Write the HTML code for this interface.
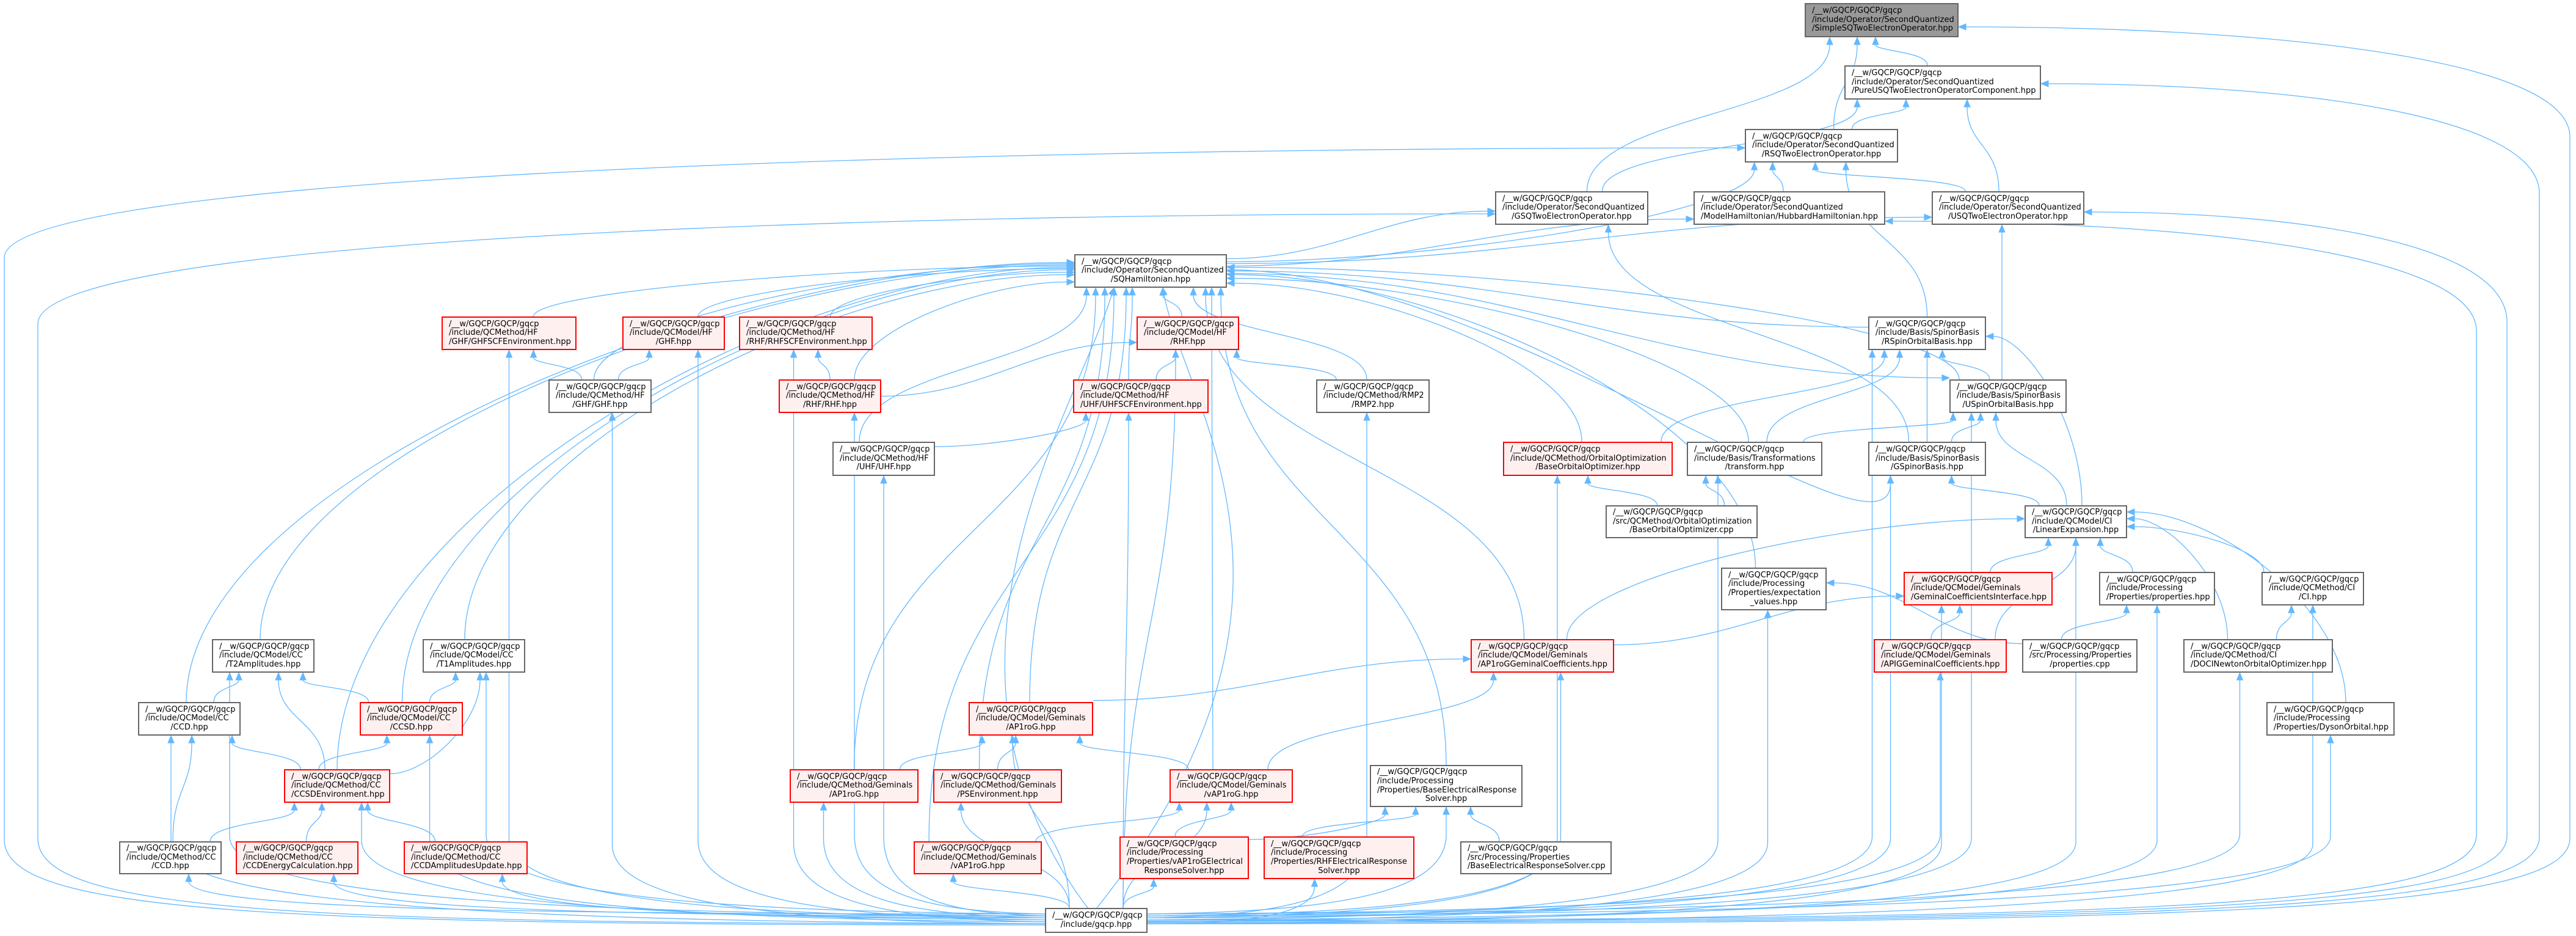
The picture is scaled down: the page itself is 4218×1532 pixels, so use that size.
<!DOCTYPE html>
<html><head><meta charset="utf-8">
<style>
html,body{margin:0;padding:0;background:#fff;}
#wrap{position:relative;width:4218px;height:1532px;overflow:hidden;background:#fff;}
svg{position:absolute;left:0;top:0;}
.n{position:absolute;box-sizing:border-box;border:2px solid #666;background:#fff;font-family:"DejaVu Sans","Liberation Sans",sans-serif;font-size:13px;line-height:14.6px;color:#000;display:flex;flex-direction:column;justify-content:center;padding:0 10px;white-space:nowrap;overflow:visible;}
.n div{text-align:left;}
.n div:last-child{text-align:center;}
.r{border-color:#ff0000;background:#fff0f0;}
.g{background:#999;border-color:#666;}
</style></head><body><div id="wrap">
<svg id="e" width="4218" height="1532" xmlns="http://www.w3.org/2000/svg"></svg>

<div class="n g" style="left:2955px;top:5px;width:252px;height:56px"><div>/__w/GQCP/GQCP/gqcp</div><div>/include/Operator/SecondQuantized</div><div>/SimpleSQTwoElectronOperator.hpp</div></div>
<div class="n" style="left:3020px;top:107px;width:322px;height:56px"><div>/__w/GQCP/GQCP/gqcp</div><div>/include/Operator/SecondQuantized</div><div>/PureUSQTwoElectronOperatorComponent.hpp</div></div>
<div class="n" style="left:2857px;top:211px;width:251px;height:55px"><div>/__w/GQCP/GQCP/gqcp</div><div>/include/Operator/SecondQuantized</div><div>/RSQTwoElectronOperator.hpp</div></div>
<div class="n" style="left:2773px;top:313px;width:314px;height:55px"><div>/__w/GQCP/GQCP/gqcp</div><div>/include/Operator/SecondQuantized</div><div>/ModelHamiltonian/HubbardHamiltonian.hpp</div></div>
<div class="n" style="left:3163px;top:313px;width:250px;height:55px"><div>/__w/GQCP/GQCP/gqcp</div><div>/include/Operator/SecondQuantized</div><div>/USQTwoElectronOperator.hpp</div></div>
<div class="n" style="left:2448px;top:313px;width:251px;height:55px"><div>/__w/GQCP/GQCP/gqcp</div><div>/include/Operator/SecondQuantized</div><div>/GSQTwoElectronOperator.hpp</div></div>
<div class="n" style="left:1759px;top:416px;width:250px;height:55px"><div>/__w/GQCP/GQCP/gqcp</div><div>/include/Operator/SecondQuantized</div><div>/SQHamiltonian.hpp</div></div>
<div class="n" style="left:3059px;top:518px;width:193px;height:55px"><div>/__w/GQCP/GQCP/gqcp</div><div>/include/Basis/SpinorBasis</div><div>/RSpinOrbitalBasis.hpp</div></div>
<div class="n" style="left:3192px;top:621px;width:192px;height:55px"><div>/__w/GQCP/GQCP/gqcp</div><div>/include/Basis/SpinorBasis</div><div>/USpinOrbitalBasis.hpp</div></div>
<div class="n" style="left:3059px;top:723px;width:193px;height:56px"><div>/__w/GQCP/GQCP/gqcp</div><div>/include/Basis/SpinorBasis</div><div>/GSpinorBasis.hpp</div></div>
<div class="n" style="left:2762px;top:723px;width:222px;height:56px"><div>/__w/GQCP/GQCP/gqcp</div><div>/include/Basis/Transformations</div><div>/transform.hpp</div></div>
<div class="n r" style="left:2461px;top:723px;width:278px;height:56px"><div>/__w/GQCP/GQCP/gqcp</div><div>/include/QCMethod/OrbitalOptimization</div><div>/BaseOrbitalOptimizer.hpp</div></div>
<div class="n" style="left:2629px;top:827px;width:249px;height:54px"><div>/__w/GQCP/GQCP/gqcp</div><div>/src/QCMethod/OrbitalOptimization</div><div>/BaseOrbitalOptimizer.cpp</div></div>
<div class="n" style="left:3315px;top:827px;width:168px;height:54px"><div>/__w/GQCP/GQCP/gqcp</div><div>/include/QCModel/CI</div><div>/LinearExpansion.hpp</div></div>
<div class="n" style="left:2818px;top:929px;width:173px;height:70px"><div>/__w/GQCP/GQCP/gqcp</div><div>/include/Processing</div><div>/Properties/expectation</div><div>_values.hpp</div></div>
<div class="n r" style="left:3117px;top:936px;width:244px;height:55px"><div>/__w/GQCP/GQCP/gqcp</div><div>/include/QCModel/Geminals</div><div>/GeminalCoefficientsInterface.hpp</div></div>
<div class="n" style="left:3437px;top:936px;width:190px;height:55px"><div>/__w/GQCP/GQCP/gqcp</div><div>/include/Processing</div><div>/Properties/properties.hpp</div></div>
<div class="n" style="left:3703px;top:936px;width:168px;height:55px"><div>/__w/GQCP/GQCP/gqcp</div><div>/include/QCMethod/CI</div><div>/CI.hpp</div></div>
<div class="n r" style="left:3068px;top:1046px;width:218px;height:55px"><div>/__w/GQCP/GQCP/gqcp</div><div>/include/QCModel/Geminals</div><div>/APIGGeminalCoefficients.hpp</div></div>
<div class="n" style="left:3311px;top:1046px;width:189px;height:55px"><div>/__w/GQCP/GQCP/gqcp</div><div>/src/Processing/Properties</div><div>/properties.cpp</div></div>
<div class="n" style="left:3575px;top:1046px;width:245px;height:55px"><div>/__w/GQCP/GQCP/gqcp</div><div>/include/QCMethod/CI</div><div>/DOCINewtonOrbitalOptimizer.hpp</div></div>
<div class="n" style="left:3711px;top:1149px;width:210px;height:55px"><div>/__w/GQCP/GQCP/gqcp</div><div>/include/Processing</div><div>/Properties/DysonOrbital.hpp</div></div>
<div class="n r" style="left:723px;top:518px;width:221px;height:55px"><div>/__w/GQCP/GQCP/gqcp</div><div>/include/QCMethod/HF</div><div>/GHF/GHFSCFEnvironment.hpp</div></div>
<div class="n r" style="left:1019px;top:518px;width:168px;height:55px"><div>/__w/GQCP/GQCP/gqcp</div><div>/include/QCModel/HF</div><div>/GHF.hpp</div></div>
<div class="n r" style="left:1210px;top:518px;width:219px;height:55px"><div>/__w/GQCP/GQCP/gqcp</div><div>/include/QCMethod/HF</div><div>/RHF/RHFSCFEnvironment.hpp</div></div>
<div class="n r" style="left:1861px;top:518px;width:168px;height:55px"><div>/__w/GQCP/GQCP/gqcp</div><div>/include/QCModel/HF</div><div>/RHF.hpp</div></div>
<div class="n" style="left:898px;top:621px;width:169px;height:55px"><div>/__w/GQCP/GQCP/gqcp</div><div>/include/QCMethod/HF</div><div>/GHF/GHF.hpp</div></div>
<div class="n r" style="left:1275px;top:621px;width:168px;height:55px"><div>/__w/GQCP/GQCP/gqcp</div><div>/include/QCMethod/HF</div><div>/RHF/RHF.hpp</div></div>
<div class="n r" style="left:1757px;top:621px;width:222px;height:55px"><div>/__w/GQCP/GQCP/gqcp</div><div>/include/QCMethod/HF</div><div>/UHF/UHFSCFEnvironment.hpp</div></div>
<div class="n" style="left:2155px;top:621px;width:186px;height:55px"><div>/__w/GQCP/GQCP/gqcp</div><div>/include/QCMethod/RMP2</div><div>/RMP2.hpp</div></div>
<div class="n" style="left:1363px;top:723px;width:168px;height:56px"><div>/__w/GQCP/GQCP/gqcp</div><div>/include/QCMethod/HF</div><div>/UHF/UHF.hpp</div></div>
<div class="n" style="left:347px;top:1046px;width:168px;height:55px"><div>/__w/GQCP/GQCP/gqcp</div><div>/include/QCModel/CC</div><div>/T2Amplitudes.hpp</div></div>
<div class="n" style="left:692px;top:1046px;width:168px;height:55px"><div>/__w/GQCP/GQCP/gqcp</div><div>/include/QCModel/CC</div><div>/T1Amplitudes.hpp</div></div>
<div class="n" style="left:226px;top:1149px;width:168px;height:55px"><div>/__w/GQCP/GQCP/gqcp</div><div>/include/QCModel/CC</div><div>/CCD.hpp</div></div>
<div class="n r" style="left:589px;top:1149px;width:169px;height:55px"><div>/__w/GQCP/GQCP/gqcp</div><div>/include/QCModel/CC</div><div>/CCSD.hpp</div></div>
<div class="n r" style="left:465px;top:1259px;width:174px;height:55px"><div>/__w/GQCP/GQCP/gqcp</div><div>/include/QCMethod/CC</div><div>/CCSDEnvironment.hpp</div></div>
<div class="n" style="left:195px;top:1377px;width:168px;height:54px"><div>/__w/GQCP/GQCP/gqcp</div><div>/include/QCMethod/CC</div><div>/CCD.hpp</div></div>
<div class="n r" style="left:386px;top:1377px;width:201px;height:54px"><div>/__w/GQCP/GQCP/gqcp</div><div>/include/QCMethod/CC</div><div>/CCDEnergyCalculation.hpp</div></div>
<div class="n r" style="left:661px;top:1377px;width:203px;height:54px"><div>/__w/GQCP/GQCP/gqcp</div><div>/include/QCMethod/CC</div><div>/CCDAmplitudesUpdate.hpp</div></div>
<div class="n r" style="left:2408px;top:1046px;width:235px;height:55px"><div>/__w/GQCP/GQCP/gqcp</div><div>/include/QCModel/Geminals</div><div>/AP1roGGeminalCoefficients.hpp</div></div>
<div class="n r" style="left:1586px;top:1149px;width:204px;height:55px"><div>/__w/GQCP/GQCP/gqcp</div><div>/include/QCModel/Geminals</div><div>/AP1roG.hpp</div></div>
<div class="n r" style="left:1293px;top:1259px;width:211px;height:55px"><div>/__w/GQCP/GQCP/gqcp</div><div>/include/QCMethod/Geminals</div><div>/AP1roG.hpp</div></div>
<div class="n r" style="left:1528px;top:1259px;width:211px;height:55px"><div>/__w/GQCP/GQCP/gqcp</div><div>/include/QCMethod/Geminals</div><div>/PSEnvironment.hpp</div></div>
<div class="n r" style="left:1915px;top:1259px;width:202px;height:55px"><div>/__w/GQCP/GQCP/gqcp</div><div>/include/QCModel/Geminals</div><div>/vAP1roG.hpp</div></div>
<div class="n" style="left:2243px;top:1252px;width:250px;height:69px"><div>/__w/GQCP/GQCP/gqcp</div><div>/include/Processing</div><div>/Properties/BaseElectricalResponse</div><div>Solver.hpp</div></div>
<div class="n r" style="left:1496px;top:1377px;width:210px;height:54px"><div>/__w/GQCP/GQCP/gqcp</div><div>/include/QCMethod/Geminals</div><div>/vAP1roG.hpp</div></div>
<div class="n r" style="left:1833px;top:1369px;width:212px;height:70px"><div>/__w/GQCP/GQCP/gqcp</div><div>/include/Processing</div><div>/Properties/vAP1roGElectrical</div><div>ResponseSolver.hpp</div></div>
<div class="n r" style="left:2069px;top:1369px;width:247px;height:70px"><div>/__w/GQCP/GQCP/gqcp</div><div>/include/Processing</div><div>/Properties/RHFElectricalResponse</div><div>Solver.hpp</div></div>
<div class="n" style="left:2391px;top:1377px;width:248px;height:54px"><div>/__w/GQCP/GQCP/gqcp</div><div>/src/Processing/Properties</div><div>/BaseElectricalResponseSolver.cpp</div></div>
<div class="n" style="left:1711px;top:1486px;width:168px;height:41px"><div>/__w/GQCP/GQCP/gqcp</div><div>/include/gqcp.hpp</div></div>

<script>
(function(){
var N={
S:[2955,5,252,56],P:[3020,107,322,56],R:[2857,211,251,55],MH:[2773,313,314,55],U:[3163,313,250,55],G:[2448,313,251,55],
H:[1759,416,250,55],RSO:[3059,518,193,55],USO:[3192,621,192,55],GSB:[3059,723,193,56],TR:[2762,723,222,56],BOO:[2461,723,278,56],
BOOC:[2629,827,249,54],LE:[3315,827,168,54],EV:[2818,929,173,70],GCI:[3117,936,244,55],PH:[3437,936,190,55],CI:[3703,936,168,55],
APIG:[3068,1046,218,55],PC:[3311,1046,189,55],DOCI:[3575,1046,245,55],DY:[3711,1149,210,55],
GHFE:[723,518,221,55],GHFM:[1019,518,168,55],RHFE:[1210,518,219,55],RHFM:[1861,518,168,55],GHF:[898,621,169,55],RHF:[1275,621,168,55],
UHFE:[1757,621,222,55],RMP2:[2155,621,186,55],UHF:[1363,723,168,56],T2:[347,1046,168,55],T1:[692,1046,168,55],CCDM:[226,1149,168,55],
CCSD:[589,1149,169,55],CCSDE:[465,1259,174,55],CCD:[195,1377,168,54],CCDE:[386,1377,201,54],CCDA:[661,1377,203,54],
AGC:[2408,1046,235,55],APM:[1586,1149,204,55],APQ:[1293,1259,211,55],PSE:[1528,1259,211,55],VAM:[1915,1259,202,55],
BER:[2243,1252,250,69],VAQ:[1496,1377,210,54],VER:[1833,1369,212,70],RER:[2069,1369,247,70],BERC:[2391,1377,248,54],GQ:[1711,1486,168,41]};
var svg=document.getElementById('e'),out='',C='#63b8ff';
function cx(n){return N[n][0]+N[n][2]/2;}
function arrow(ex,ey,px,py){var dx=ex-px,dy=ey-py,l=Math.sqrt(dx*dx+dy*dy)||1;dx/=l;dy/=l;var L=12,W=5;
var bx=ex-dx*L,by=ey-dy*L;out+='<polygon points="'+ex+','+ey+' '+(bx-dy*W)+','+(by+dx*W)+' '+(bx+dy*W)+','+(by-dx*W)+'" fill="'+C+'" stroke="'+C+'"/>';return [bx,by];}
function path(d){out+='<path d="'+d+'" fill="none" stroke="'+C+'" stroke-width="1.3"/>';}
// child c, parent p, opts: so start offset, eo end offset, es end side 'L'/'R'/'B', ss start side 'T'/'R'/'L', ey offset
function E(c,p,o){o=o||{};var a=N[c],b=N[p];var sx,sy,ex,ey,c1x,c1y,c2x,c2y;
var ss=o.ss||'T',es=o.es||'B';
if(ss=='T'){sx=cx(c)+(o.so||0);sy=a[1];}else if(ss=='R'){sx=a[0]+a[2];sy=a[1]+a[3]/2+(o.so||0);}else{sx=a[0];sy=a[1]+a[3]/2+(o.so||0);}
if(es=='B'){ex=cx(p)+(o.eo||0);ey=b[1]+b[3];}else if(es=='L'){ex=b[0];ey=b[1]+b[3]/2+(o.eo||0);}else{ex=b[0]+b[2];ey=b[1]+b[3]/2+(o.eo||0);}
var k=Math.abs(sy-ey)*0.5;
if(ss=='T'){c1x=sx;c1y=sy-k;}else{c1x=sx+(ss=='R'?1:-1)*Math.abs(ex-sx)*0.4;c1y=sy;}
if(es=='B'){c2x=ex;c2y=ey+k;}else{c2x=ex+(es=='L'?-1:1)*Math.abs(ex-sx)*0.4;c2y=ey;}
var bb=arrow(ex,ey,c2x,c2y);
path('M'+sx+','+sy+' C'+c1x+','+c1y+' '+c2x+','+c2y+' '+bb[0]+','+bb[1]);}
var ed=[
['P','S',{so:-25,eo:-10}],['R','S',{so:20,eo:-40}],['G','S',{so:25,eo:-85}],
['R','P',{so:50,eo:-60}],['U','P',{so:-15,eo:40}],['G','P',{so:50,eo:-140}],
['MH','R',{so:-10,eo:-80}],['U','R',{so:-70,eo:-10}],['RSO','R',{so:0,eo:40}],
['USO','U',{so:-10,eo:-10}],['GSB','G',{so:-30,eo:60}],
['H','R',{ss:'R',so:-15,eo:-110}],['H','U',{ss:'R',so:-12,es:'L',eo:15}],['H','MH',{ss:'R',so:-8,es:'L',eo:18}],['H','G',{ss:'R',so:-20,es:'L',eo:5}],
['GHFE','H',{so:40,es:'L',eo:-8}],['GHFM','H',{so:40,es:'L',eo:-4}],['RHFE','H',{so:40,es:'L',eo:2}],['GHF','H',{so:-10,es:'L',eo:-12}],
['CCDM','H',{so:-5,es:'L',eo:-14}],['T2','H',{so:-5,es:'L',eo:-10}],['CCSDE','H',{so:0,es:'L',eo:-6}],['CCSD','H',{so:-15,es:'L',eo:-2}],['T1','H',{so:-15,es:'L',eo:6}],
['RHF','H',{so:40,es:'L',eo:18}],['UHF','H',{so:-40,eo:-105}],['APQ','H',{so:0,eo:-90}],['PSE','H',{so:-30,eo:-75}],['APM','H',{so:-2,eo:-40}],['UHFE','H',{so:-20,eo:-30}],
['RHFM','H',{so:-10,eo:20}],['RMP2','H',{so:-10,eo:70}],['VAM','H',{so:-30,eo:100}],['VAQ','H',{so:-80,eo:-60}],['BER','H',{so:0,eo:115}],
['BOO','H',{so:-10,es:'R',eo:20}],['TR','H',{so:-10,es:'R',eo:12}],['EV','H',{so:-30,es:'R',eo:6}],['RSO','H',{ss:'L',so:-10,es:'R',eo:0}],['USO','H',{so:-80,es:'R',eo:-6}],['AGC','H',{so:-30,eo:90}],
['RHF','RHFM',{ss:'R',so:0,es:'L',eo:15}],['UHFE','RHFM',{so:25,eo:-20}],['RMP2','RHFM',{so:-60,eo:80}],
['RHF','RHFE',{so:0,eo:20}],['GHF','GHFE',{so:-30,eo:40}],['GHF','GHFM',{so:30,eo:-40}],['UHF','UHFE',{ss:'R',so:-20,eo:-90}],
['CCDM','T2',{so:40,eo:-40}],['CCSD','T2',{so:-70,eo:65}],['CCSDE','T2',{so:-20,eo:25}],
['CCSD','T1',{so:30,eo:-30}],['CCSDE','T1',{ss:'R',so:-20,eo:10}],
['CCSDE','CCDM',{so:-60,eo:70}],['CCD','CCDM',{so:4,eo:4}],['CCSDE','CCSD',{so:-30,eo:-40}],
['CCD','CCSDE',{so:65,eo:-70}],['CCDE','CCSDE',{so:15,eo:-25}],['CCDA','CCSDE',{so:-50,eo:50}],
['APQ','APM',{so:75,eo:-80}],['PSE','APM',{so:0,eo:-25}],['VAM','APM',{so:-70,eo:80}],
['APM','AGC',{ss:'R',so:-30,es:'L',eo:5}],['VAM','AGC',{so:60,eo:-80}],
['AGC','GCI',{ss:'R',so:-18,es:'L',eo:12}],['AGC','LE',{so:40,es:'L',eo:-5}],
['VAQ','VAM',{so:95,eo:-85}],['VER','VAM',{so:-15,eo:0}],['VER','BER',{ss:'R',so:-30,eo:-100}],['RER','BER',{so:-60,eo:-50}],['BERC','BER',{so:-60,eo:40}],
['BOOC','BOO',{so:-40,eo:0}],['BOOC','TR',{so:70,eo:-80}],
['TR','RSO',{so:20,eo:-45}],['TR','USO',{so:80,eo:-90}],['BOO','RSO',{so:120,eo:-70}],
['GSB','RSO',{so:0,eo:0}],['GSB','USO',{so:40,eo:-45}],['USO','RSO',{so:-30,eo:25}],
['LE','RSO',{so:10,es:'R',eo:5}],['LE','USO',{so:-15,eo:-20}],['LE','GSB',{so:-60,eo:40}],
['GCI','LE',{so:20,eo:-45}],['APIG','LE',{so:90,eo:0}],['PH','LE',{so:-40,eo:40}],['CI','LE',{so:-80,es:'R',eo:8}],['DOCI','LE',{so:-50,es:'R',eo:-5}],['DY','LE',{so:25,es:'R',eo:-16}],
['APIG','GCI',{so:-15,eo:-30}],['PC','PH',{so:-30,eo:-50}],['PC','EV',{ss:'L',so:-20,es:'R',eo:-10}],['DOCI','CI',{so:30,eo:-35}],
['H','GSB',{ss:'R',so:-2,eo:-60}],['H','USO',{ss:'R',so:4,es:'L',eo:-30}]
];
ed.forEach(function(x){E(x[0],x[1],x[2]);});
// gqcp edges
var G=N.GQ,gl=G[0],gr=G[0]+G[2],gt=G[1];
var tl=['CCD','CCDE','CCDA','CCSDE','CCSD','CCDM','T1','T2','GHFE','GHFM','RHFE','GHF','RHF','UHF','APQ','PSE','VAQ','APM'];
var tr=['UHFE','RHFM','RMP2','VAM','VER','RER','BER','AGC','BOO','TR','EV','GCI','APIG','RSO','GSB','PH','LE','CI','DOCI','DY','USO'];
var off={CCSDE:40,CCD:30,CCDM:-30,T2:-55,T1:20,GHFE:0,GHFM:40,RHFE:-20,GHF:20,RHF:40,UHF:0,APQ:-50,PSE:-60,APM:-30,VAQ:-40,
UHFE:-20,RHFM:-20,RMP2:-10,VAM:-40,VER:-50,RER:-40,BER:0,AGC:30,BOO:-50,TR:-60,EV:-10,GCI:-60,APIG:0,RSO:-90,GSB:-60,PH:0,LE:0,CI:0,DOCI:-30,DY:0,USO:-60,CCDE:60,CCDA:60,CCSD:30};
var i=0;
function gEdge(t,side){var b=N[t];var tx=cx(t)+(off[t]||0),tb=b[1]+b[3];var sx,sy;
if(side=='L'){sx=gl;sy=1496+(i%6)*3.2;}else{sx=gr;sy=1496+(i%6)*3.2;}i++;
var near=Math.abs(tx-(side=='L'?gl:gr));
if(near<260){ // from top
 sx=(side=='L'?gl+40:gr-40);sy=gt;var k=(sy-tb)*0.5;var bb=arrow(tx,tb,tx,tb+k);
 path('M'+sx+','+sy+' C'+sx+','+(sy-k)+' '+tx+','+(tb+k)+' '+bb[0]+','+bb[1]);return;}
if(tb>sy-130){var c2y=Math.min(tb+60,sy-5);var bb=arrow(tx,tb,tx,c2y);
 path('M'+sx+','+sy+' C'+(sx+(tx-sx)*0.55)+','+sy+' '+tx+','+c2y+' '+bb[0]+','+bb[1]);return;}
var yc=sy-130;var bb=arrow(tx,tb,tx,tb+20);
path('M'+sx+','+sy+' C'+(sx+(tx-sx)*0.6)+','+(sy-4)+' '+tx+','+(sy-30)+' '+tx+','+yc+' L'+bb[0]+','+bb[1]);}
tl.forEach(function(t){gEdge(t,'L');});tr.forEach(function(t){gEdge(t,'R');});
// far routed
function far(t,rx,ey,side,sy){var b=N[t];var ex=(side=='R'?b[0]+b[2]:b[0]);var sx=(rx>gr?gr:gl);
var top=ey+180;var bb=arrow(ex,ey,ex+(side=='R'?1:-1)*(Math.abs(rx-ex)*0.5),ey);
path('M'+sx+','+sy+' C'+(sx+(rx-sx)*0.75)+','+sy+' '+rx+','+(sy-20)+' '+rx+','+(sy-140)+' L'+rx+','+top+' C'+rx+','+(ey+50)+' '+(ex+(rx-ex)*0.5)+','+ey+' '+bb[0]+','+bb[1]);}
far('S',4208,44,'R',1512);far('P',4158,137,'R',1510);far('U',4105,347,'R',1508);far('MH',4055,362,'R',1506);
far('R',7,242,'L',1514);far('G',62,350,'L',1512);
// gqcp -> H, others near top
(function(){var sx=gl+70,sy=gt,tx=cx('H')-60,tb=471;var bb=arrow(tx,tb,tx-20,tb+60);
path('M'+sx+','+sy+' C'+(sx-300)+','+(sy-400)+' '+(tx-60)+','+(tb+200)+' '+bb[0]+','+bb[1]);
sx=gl+85;tx=cx('H')+20;bb=arrow(tx,tb,tx+10,tb+60);
path('M'+sx+','+sy+' C'+(sx+400)+','+(sy-500)+' '+(tx+40)+','+(tb+200)+' '+bb[0]+','+bb[1]);})();
svg.innerHTML=out;
})();
</script>
</div></body></html>
